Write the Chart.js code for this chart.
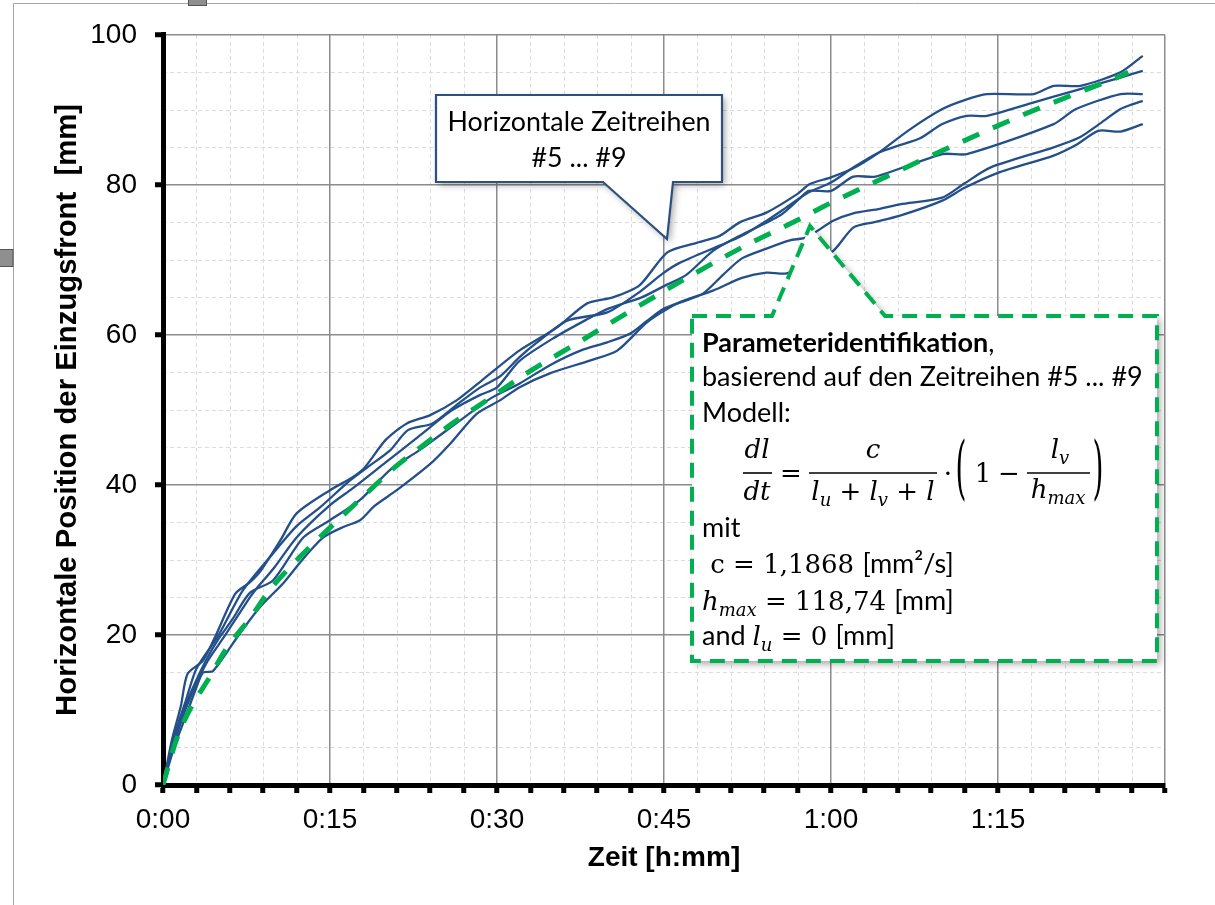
<!DOCTYPE html>
<html lang="de">
<head>
<meta charset="utf-8">
<title>Horizontale Zeitreihen #5 ... #9</title>
<script src="https://cdn.jsdelivr.net/npm/chart.js@4.4.1/dist/chart.umd.min.js"></script>
<style>
  html, body { margin: 0; padding: 0; background: #fff; }
</style>
</head>
<body>
<canvas id="chart" width="1215" height="905"></canvas>
<script>
// Zeitreihen #5 ... #9, Punkte als [Zeit in min, Position in mm]
const reihe5 = [[0,0],[0.8,6],[1.6,10.5],[2.2,14.8],[3.6,16.6],[4.7,19.8],[6.5,25.5],[7.8,27],[8.7,28.4],[10.5,32.5],[12,36.2],[15,39.3],[17,41],[18.1,42.3],[20,46],[21.9,48.2],[24,49.3],[26.4,51.3],[28.7,54],[32,57.9],[35.4,61],[38.1,64.2],[40.4,65],[42.8,66.6],[45.3,71],[48,72.3],[50,73.2],[51.8,75],[54.2,76.3],[57,78.8],[58.1,80.1],[60,81],[62,82.2],[64.3,84.3],[67,87.3],[70,90.1],[72,91.3],[74,92.1],[78.2,92.1],[80,93.2],[82.4,93.2],[86,95],[88,97.2]];
const reihe6 = [[0,0],[1,6.5],[2,11],[3,15.5],[5,20],[7.2,26],[9.9,30.9],[12,34.5],[14.1,37],[16.8,40.6],[18.5,42.5],[20.4,44.6],[22,47.3],[24.2,48.2],[26.4,50.7],[28.5,53],[30.3,54.5],[32,57],[33.6,59],[36.3,61.9],[39.9,63],[42.6,65.5],[44.9,68.2],[46.4,69.6],[50,71.9],[52,73.2],[54.2,75.2],[56,77],[58,79],[60,80.3],[62,82.3],[64.3,84.3],[66,85.2],[68,86.2],[70,88.1],[72.2,89.2],[74,89.2],[78,90.9],[82,92.6],[86,94.3],[88,95.2]];
const reihe7 = [[0,0],[1,5.5],[2,10],[3,13.5],[4,16.5],[5.6,20],[7.8,25],[8.3,26],[10,29],[12,33],[15,37.3],[17,39.5],[20,43],[23,46.5],[26,50],[28.5,52],[30,53],[32,56.5],[35,59.5],[38,62],[40,63.5],[43,65],[45,66.5],[47,68],[49.4,71.2],[51.8,73.2],[55.4,75.9],[57.2,78.2],[58,79.2],[60,79.2],[62,81.1],[64,81.1],[70,84.1],[72.2,84.1],[80,88.1],[82,90.1],[86,92.1],[88,92.1]];
const reihe8 = [[0,0],[1,6],[2,10.5],[3,14],[4,17],[5,19.5],[6.2,22],[7.8,25.6],[9.9,27.3],[12.6,33],[15,35.3],[17.7,38],[20.4,42],[23,44.6],[26.7,48.6],[29.4,51.5],[32,53.5],[34.8,56],[37.5,57.9],[39.9,59],[42,60.2],[43.5,61.9],[45,63.5],[47,64.6],[48.5,65.5],[50.3,68],[52,70.2],[54.2,71.5],[56.3,72.6],[57.8,73],[60.2,75.2],[62,76.2],[64.4,76.8],[66.2,77.4],[70,78.3],[72,80.2],[74.3,82.3],[80,85],[82.3,86.3],[84,88],[86,90.1],[87,90.7],[88,91.2]];
const reihe9 = [[0,0],[1,5],[2,9],[3,13],[3.6,15],[4.5,15.2],[6.9,20.2],[8.7,23.7],[10.8,26.9],[12.5,30],[14.4,33],[16.2,34.4],[17.7,35.3],[19,37.2],[21,39.3],[24,42.8],[25.8,45.5],[28.2,49.5],[30.3,51.3],[32,53],[34.8,54.9],[38.4,56.6],[40.8,57.9],[43.5,61.7],[46.2,64.2],[49.4,65.9],[52,67.6],[54.2,68.3],[56,68.2],[58,69.5],[60.2,71.2],[62,74.3],[63.8,75],[66.2,75.9],[70,77.9],[72,79.6],[75,81.6],[80,83.9],[82,85.3],[84,87.2],[86,87.1],[88,88.1]];

// identifiziertes Modell (gruen gestrichelt)
const modell = [[0,0],[1.2,6],[2.4,10],[4.2,14.4],[5.7,18.2],[7.8,22.2],[9.6,26],[11.7,29.5],[14,32.9],[16.2,36],[18.3,38.9],[20.7,42.2],[23.3,45.2],[26,48.2],[29.1,51.3],[33,55.2],[37.2,58.9],[42,63.2],[47.3,67.8],[52.7,72.2],[56.6,75],[60,77.6],[64.7,80.9],[68.3,83.4],[71.1,85.3],[74.1,87.3],[77.2,89.3],[80,91],[83.1,92.8],[86,94.5],[86.7,95]];

// Achsbeschriftung der Zeitachse (alle 15 min)
const zeitLabels = ['0:00', '0:15', '0:30', '0:45', '1:00', '1:15'];

const blau = '#23508a';
const gruen = '#00b050';
const raster = '#8c8c8c';
const sans = 'Lato, "Open Sans", sans-serif';
const arial = '"Liberation Sans", Arial, sans-serif';
const yTitel = 'Horizontale Position der Einzugsfront  [mm]';

// Schriftgroesse so waehlen, dass ein Text eine bestimmte Breite hat
const mess = document.createElement('canvas').getContext('2d');
function groesse(text, gewicht, familie, breite) {
    mess.font = `${gewicht} 100px ${familie}`;
    return Math.round(1000 * breite / mess.measureText(text).width) / 10;
}
const gsGruen = groesse('basierend auf den Zeitreihen #5 ... #9', 'normal', sans, 441);
const gsBlau = groesse('Horizontale Zeitreihen', 'normal', sans, 263);
const gsYTitel = groesse(yTitel, 'bold', arial, 612);

// Text aus Teilen mit verschiedenen Schriften: [text, font, dy]
function rich(ctx, teile, x, y, align) {
    const breiten = teile.map(([t, f]) => { ctx.font = f; return ctx.measureText(t).width; });
    const gesamt = breiten.reduce((a, b) => a + b, 0);
    let cx = align === 'center' ? x - gesamt / 2 : x;
    ctx.textAlign = 'left';
    ctx.textBaseline = 'alphabetic';
    teile.forEach(([t, f, dy], i) => {
        ctx.font = f;
        ctx.fillText(t, cx, y + (dy || 0));
        cx += breiten[i];
    });
}

function polygon(ctx, punkte) {
    ctx.beginPath();
    punkte.forEach(([px, py], i) => i ? ctx.lineTo(px, py) : ctx.moveTo(px, py));
    ctx.closePath();
}

// Hintergrund, Rahmen und gestricheltes Hilfsraster
const hintergrund = {
    id: 'hintergrund',
    beforeDraw(chart) {
        const {ctx, chartArea: a, scales: {x, y}} = chart;
        ctx.save();
        ctx.fillStyle = '#fff';
        ctx.fillRect(0, 0, chart.width, chart.height);

        ctx.strokeStyle = '#a6a6a6';
        ctx.lineWidth = 1;
        ctx.beginPath();
        ctx.moveTo(13.5, chart.height);
        ctx.lineTo(13.5, 3.5);
        ctx.lineTo(chart.width, 3.5);
        ctx.stroke();
        ctx.fillStyle = '#8f8f8f';
        ctx.fillRect(188, 0, 19, 6);
        ctx.fillRect(0, 249, 13, 18);
        ctx.strokeStyle = '#555';
        ctx.strokeRect(188.5, -1, 18, 6.5);
        ctx.strokeRect(-1, 249.5, 14, 17);

        ctx.strokeStyle = '#dcdcdc';
        ctx.setLineDash([4, 3]);
        ctx.beginPath();
        for (let m = 3; m < 90; m += 3) {
            if (m % 15 === 0) continue;
            const px = Math.round(x.getPixelForValue(m)) + 0.5;
            ctx.moveTo(px, a.top);
            ctx.lineTo(px, a.bottom);
        }
        for (let v = 5; v < 100; v += 5) {
            if (v % 20 === 0) continue;
            const py = Math.round(y.getPixelForValue(v)) + 0.5;
            ctx.moveTo(a.left, py);
            ctx.lineTo(a.right, py);
        }
        ctx.stroke();
        ctx.restore();
    }
};

// die beiden Legendenfelder
const sprechblasen = {
    id: 'sprechblasen',
    afterDatasetsDraw(chart) {
        const ctx = chart.ctx;
        ctx.save();

        // blaue Sprechblase
        const blase = [[436, 95], [722, 95], [722, 182], [673, 182], [667, 239], [603, 182], [436, 182]];
        ctx.shadowColor = 'rgba(0,0,0,0.35)';
        ctx.shadowBlur = 7;
        ctx.shadowOffsetX = 3;
        ctx.shadowOffsetY = 3;
        ctx.fillStyle = '#fff';
        polygon(ctx, blase);
        ctx.fill();
        ctx.shadowColor = 'transparent';
        ctx.strokeStyle = '#2c5080';
        ctx.lineWidth = 2.2;
        ctx.lineJoin = 'miter';
        polygon(ctx, blase);
        ctx.stroke();
        ctx.fillStyle = '#000';
        rich(ctx, [['Horizontale Zeitreihen', `${gsBlau}px ${sans}`]], 579, 131, 'center');
        rich(ctx, [['#5 ... #9', `${gsBlau}px ${sans}`]], 579, 167, 'center');

        // gruene Sprechblase
        const kasten = [[692, 316], [772, 316], [810, 226], [885, 316], [1157, 316], [1157, 661], [692, 661]];
        ctx.shadowColor = 'rgba(0,0,0,0.35)';
        ctx.shadowBlur = 7;
        ctx.shadowOffsetX = 3;
        ctx.shadowOffsetY = 3;
        ctx.fillStyle = '#fff';
        polygon(ctx, kasten);
        ctx.fill();
        ctx.shadowColor = 'transparent';
        ctx.strokeStyle = gruen;
        ctx.lineWidth = 4;
        ctx.setLineDash([15, 9]);
        polygon(ctx, kasten);
        ctx.stroke();
        ctx.setLineDash([]);

        const S = `${gsGruen}px ${sans}`;
        const MI = 'italic 26px "DejaVu Serif"';
        const MR = '26px "DejaVu Serif"';
        const MS = 'italic 18px "DejaVu Serif"';
        ctx.fillStyle = '#000';
        rich(ctx, [['Parameteridentifikation', `bold ${S}`], [',', S]], 702, 352);
        rich(ctx, [['basierend auf den Zeitreihen #5 ... #9', S]], 702, 386);
        rich(ctx, [['Modell:', S]], 702, 422);

        // dl/dt = c/(lu+lv+l) * (1 - lv/hmax)
        ctx.strokeStyle = '#000';
        ctx.lineWidth = 1.6;
        [[743, 772], [809, 937], [1027, 1090]].forEach(([a, b]) => {
            ctx.beginPath();
            ctx.moveTo(a, 473);
            ctx.lineTo(b, 473);
            ctx.stroke();
        });
        rich(ctx, [['dl', MI]], 757, 458, 'center');
        rich(ctx, [['dt', MI]], 757, 500, 'center');
        rich(ctx, [['=', MR]], 791, 482, 'center');
        rich(ctx, [['c', MI]], 873, 458, 'center');
        rich(ctx, [['l', MI], ['u', MS, 6], [' + ', MR], ['l', MI], ['v', MS, 6], [' + ', MR], ['l', MI]], 873, 500, 'center');
        rich(ctx, [['\u00b7', MR]], 948, 482, 'center');
        rich(ctx, [['1', MR]], 983, 482, 'center');
        rich(ctx, [['\u2212', MR]], 1009, 482, 'center');
        rich(ctx, [['l', MI], ['v', MS, 6]], 1060, 458, 'center');
        rich(ctx, [['h', MI], ['max', MS, 6]], 1058, 498, 'center');
        [['(', 961], [')', 1098]].forEach(([k, kx]) => {
            ctx.save();
            ctx.translate(kx, 473);
            ctx.scale(1, 2.5);
            ctx.font = '28px "DejaVu Serif"';
            ctx.textAlign = 'center';
            ctx.textBaseline = 'middle';
            ctx.fillText(k, 0, 0);
            ctx.restore();
        });

        rich(ctx, [['mit', S]], 702, 537);
        rich(ctx, [[' c = 1,1868 ', MR], ['[mm\u00b2/s]', S]], 702, 573);
        rich(ctx, [['h', MI], ['max', MS, 6], [' = 118,74 ', MR], ['[mm]', S]], 702, 610);
        rich(ctx, [['and ', S], ['l', MI], ['u', MS, 6], [' = 0 ', MR], ['[mm]', S]], 702, 645);

        ctx.restore();
    }
};

function zeitreihe(punkte) {
    return {
        data: punkte.map(([x, y]) => ({x, y})),
        borderColor: blau,
        borderWidth: 2.3,
        pointRadius: 0,
        tension: 0.25,
        order: 1
    };
}

new Chart(document.getElementById('chart'), {
    type: 'line',
    data: {
        datasets: [
            {
                data: modell.map(([x, y]) => ({x, y})),
                borderColor: gruen,
                borderWidth: 5,
                borderDash: [18, 15],
                pointRadius: 0,
                cubicInterpolationMode: 'monotone',
                order: 0
            },
            zeitreihe(reihe5),
            zeitreihe(reihe6),
            zeitreihe(reihe7),
            zeitreihe(reihe8),
            zeitreihe(reihe9)
        ]
    },
    options: {
        responsive: false,
        animation: false,
        events: [],
        layout: { padding: { top: 34, right: 50, left: 0, bottom: 0 } },
        plugins: { legend: { display: false }, tooltip: { enabled: false } },
        scales: {
            x: {
                type: 'linear',
                min: 0,
                max: 90,
                afterFit(s) { s.height = 120; },
                ticks: {
                    stepSize: 3,
                    autoSkip: false,
                    maxRotation: 0,
                    padding: 10,
                    color: '#000',
                    font: { family: arial, size: 28 },
                    callback: v => (v % 15 === 0 && zeitLabels[v / 15]) || ''
                },
                grid: {
                    color: c => (c.tick && c.tick.value % 15 === 0) ? raster : 'rgba(0,0,0,0)',
                    lineWidth: 1.5,
                    tickColor: '#000',
                    tickWidth: 5,
                    tickLength: 8
                },
                border: { color: '#000', width: 5 },
                title: {
                    display: true,
                    text: 'Zeit [h:mm]',
                    color: '#000',
                    font: { family: arial, size: 28, weight: 'bold' },
                    padding: { top: 0, bottom: 30 }
                }
            },
            y: {
                min: 0,
                max: 100,
                afterFit(s) { s.width = 163; },
                ticks: {
                    stepSize: 20,
                    padding: 18,
                    color: '#000',
                    font: { family: arial, size: 28 }
                },
                grid: {
                    color: raster,
                    lineWidth: 1.5,
                    tickColor: '#000',
                    tickWidth: 5,
                    tickLength: 8
                },
                border: { color: '#000', width: 5 },
                title: {
                    display: true,
                    text: yTitel,
                    color: '#000',
                    font: { family: arial, size: gsYTitel, weight: 'bold' },
                    padding: { top: 50, bottom: 0 }
                }
            }
        }
    },
    plugins: [hintergrund, sprechblasen]
});
</script>
</body>
</html>
